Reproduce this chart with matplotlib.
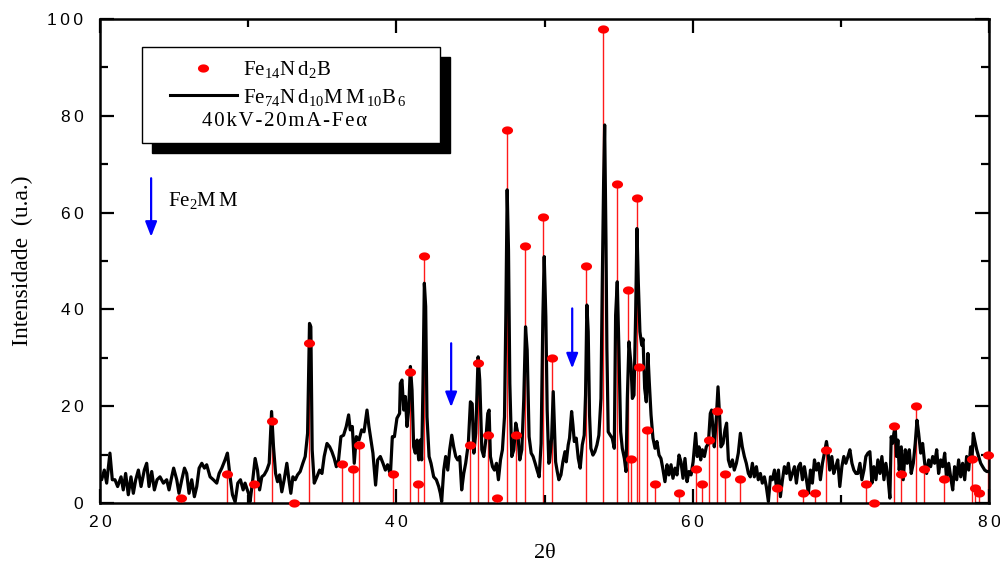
import matplotlib
matplotlib.use("Agg")
import matplotlib.pyplot as plt
import numpy as np
from matplotlib.path import Path
from matplotlib.patches import Rectangle
from matplotlib.ticker import MultipleLocator, FuncFormatter

# measured pattern Fe74Nd10MM10B6 (2theta, intensity)
two_theta = [
    20.0, 20.11, 20.29, 20.45, 20.67, 20.83, 21.01, 21.19, 21.42, 21.57, 21.73, 21.91, 22.09, 22.25,
    22.41, 22.59, 22.77, 22.99, 23.15, 23.31, 23.49, 23.67, 23.85, 24.05, 24.28, 24.5, 24.66, 24.84,
    24.97, 25.18, 25.33, 25.52, 25.7, 25.85, 26.01, 26.19, 26.37, 26.53, 26.69, 26.87, 27.05, 27.2,
    27.43, 27.65, 27.88, 28.04, 28.22, 28.44, 28.6, 28.78, 28.94, 29.12, 29.3, 29.48, 29.66, 29.79,
    30.02, 30.13,
    30.31, 30.47, 30.63, 30.77, 30.92, 31.08, 31.26, 31.42, 31.58, 31.71, 31.85, 31.98, 32.12, 32.27,
    32.43, 32.61, 32.75, 32.88, 33.02, 33.18, 33.33, 33.51, 33.69, 33.85, 34.01, 34.14, 34.23, 34.32,
    34.46, 34.64, 34.82, 34.98, 35.13, 35.32, 35.5, 35.65, 35.81, 35.95, 36.1, 36.26, 36.44, 36.62,
    36.78, 36.89, 37.03, 37.16, 37.3, 37.48, 37.66, 37.82, 38.02, 38.15, 38.29, 38.42, 38.6, 38.74,
    38.92, 39.1, 39.26, 39.41, 39.6, 39.73, 39.87, 40.04, 40.22,
    40.27, 40.38, 40.5, 40.61, 40.72, 40.83, 40.95, 41.06, 41.17, 41.28, 41.4, 41.51, 41.62, 41.71,
    41.8, 41.89, 41.98, 42.07, 42.21, 42.34, 42.52, 42.7, 42.86, 42.97, 43.06, 43.2, 43.33, 43.47,
    43.6, 43.74, 43.87, 44.01, 44.14, 44.28, 44.41, 44.55, 44.68, 44.86, 45.0, 45.12, 45.23, 45.36,
    45.52, 45.63, 45.77, 45.9, 46.04, 46.17, 46.26, 46.35, 46.49, 46.62, 46.76, 46.89, 47.03, 47.16,
    47.3, 47.39, 47.48, 47.57, 47.66, 47.79, 47.93, 48.06, 48.2, 48.33, 48.47, 48.6, 48.72, 48.83,
    48.96, 49.1, 49.23, 49.37, 49.5, 49.64, 49.77, 49.89, 49.98, 50.09, 50.18, 50.29,
    50.34, 50.48, 50.59, 50.68, 50.75, 50.86, 50.97, 51.11, 51.24, 51.38, 51.47, 51.6, 51.69, 51.83,
    51.92, 52.01, 52.14, 52.28, 52.41, 52.55, 52.68, 52.77, 52.86, 52.95, 53.04, 53.13, 53.27, 53.4,
    53.54, 53.67, 53.81, 53.9, 53.99, 54.06, 54.15, 54.21, 54.3, 54.44, 54.57, 54.71, 54.8, 54.91,
    55.02, 55.14, 55.25, 55.39, 55.5, 55.59, 55.7, 55.84, 55.93, 56.04, 56.15, 56.24, 56.33, 56.44,
    56.56, 56.65, 56.76, 56.87, 56.98, 57.07, 57.19, 57.32, 57.46, 57.59, 57.73, 57.86, 57.98, 58.13,
    58.27, 58.4, 58.54, 58.67, 58.81, 58.94, 59.08, 59.21, 59.35, 59.48, 59.62, 59.75, 59.89, 60.03,
    60.2, 60.31, 60.43, 60.54, 60.65, 60.79, 60.92, 61.06, 61.19, 61.28, 61.37, 61.46, 61.6, 61.71,
    61.82, 61.91, 62.05, 62.18, 62.29, 62.41, 62.54, 62.68, 62.81, 62.95, 63.08, 63.22, 63.35, 63.49,
    63.62, 63.76, 63.89, 64.03, 64.16, 64.3, 64.43, 64.57, 64.7, 64.84, 64.97, 65.11, 65.25, 65.38,
    65.52, 65.65, 65.79, 65.92, 66.06, 66.19, 66.33, 66.46, 66.6, 66.73, 66.87, 67.0, 67.14, 67.27,
    67.41, 67.54, 67.68, 67.81, 67.95, 68.08, 68.22, 68.35, 68.49, 68.62, 68.76, 68.89, 69.03, 69.14,
    69.25, 69.39, 69.52, 69.66, 69.79, 69.93, 70.07, 70.2,
    70.34, 70.48, 70.61, 70.75, 70.88, 71.02, 71.15, 71.29, 71.42, 71.56, 71.69, 71.83, 71.96, 72.1,
    72.23, 72.37, 72.5, 72.64, 72.77, 72.91, 73.04, 73.18, 73.31, 73.4, 73.49, 73.58, 73.67, 73.76,
    73.85, 73.94, 74.08, 74.21, 74.35, 74.48, 74.62, 74.75, 74.89, 75.02, 75.14, 75.25, 75.39, 75.52,
    75.66, 75.79, 75.93, 76.06, 76.2, 76.33, 76.47, 76.6, 76.74, 76.87, 77.01, 77.14, 77.28, 77.41,
    77.55, 77.68, 77.82, 77.95, 78.09, 78.22, 78.36, 78.49, 78.63, 78.76, 78.85, 78.94, 79.03, 79.17,
    79.3, 79.44, 79.57, 79.71, 79.85, 79.98,
]
intensity = [
    5.0, 4.8, 6.8, 4.1, 10.3, 4.8, 4.8, 3.4, 5.4, 2.7, 6.1, 1.7, 5.4, 2.0,
    4.8, 6.8, 3.4, 6.8, 8.2, 3.4, 6.5, 2.7, 4.8, 5.4, 4.1, 4.8, 2.7, 5.4,
    7.2, 4.8, 2.0, 4.8, 7.2, 6.1, 2.0, 4.8, 1.3, 3.4, 7.2, 8.2, 7.2, 7.9,
    5.4, 4.8, 4.1, 6.1, 7.2, 8.9, 10.3, 5.4, 1.7, 0.2, 4.1, 4.8, 2.7, 4.1,
    2.0, 0.3,
    4.8, 9.2, 6.8, 2.7, 5.4, 5.8, 6.8, 8.2, 18.9, 11.6, 6.1, 4.4, 5.8, 2.3,
    4.8, 8.2, 4.8, 2.0, 5.4, 4.8, 5.8, 6.5, 8.2, 9.6, 14.4, 37.1, 36.4, 11.0,
    4.1, 5.4, 6.8, 6.1, 9.6, 12.3, 11.6, 10.6, 9.2, 7.5, 8.9, 13.7, 14.0, 15.8,
    18.2, 15.1, 15.8, 8.2, 13.7, 13.0, 15.1, 14.7, 19.2, 15.8, 13.0, 10.3, 3.7, 8.9,
    9.6, 8.2, 6.8, 7.9, 5.8, 13.7, 13.7, 17.5, 18.5,
    24.7, 25.4, 19.2, 22.0, 15.8, 19.2, 28.2, 23.3, 11.6, 10.3, 13.0, 8.9, 13.0, 8.9,
    24.7, 45.4, 40.6, 17.8, 9.6, 8.2, 5.4, 4.8, 3.4, 2.0, 0.3, 6.8, 9.6, 6.8,
    11.0, 14.0, 11.6, 9.6, 8.9, 9.6, 2.7, 6.1, 8.2, 12.3, 20.9, 20.5, 10.3, 14.4,
    30.2, 25.4, 11.0, 9.6, 13.0, 18.5, 19.2, 9.6, 7.5, 6.8, 8.2, 4.8, 8.9, 11.0,
    17.8, 38.5, 64.7, 52.3, 24.7, 9.6, 11.0, 16.5, 14.4, 8.9, 11.0, 21.3, 36.4, 31.6,
    13.7, 10.3, 9.6, 8.2, 6.8, 5.4, 12.3, 38.5, 50.9, 38.5, 19.2, 8.2,
    8.5, 13.4, 23.0, 14.7, 8.5, 6.5, 4.8, 5.8, 8.5, 10.6, 8.5, 12.0, 13.4, 18.9,
    16.1, 12.7, 13.4, 9.2, 7.2, 12.0, 14.0, 22.3, 40.9, 35.4, 18.2, 11.3, 9.9, 10.6,
    12.0, 14.0, 21.6, 45.7, 66.4, 78.1, 54.0, 32.0, 14.7, 14.0, 13.4, 11.3, 38.8, 45.7,
    32.0, 14.7, 11.3, 9.2, 6.5, 21.6, 33.3, 28.5, 21.6, 22.3, 38.8, 56.7, 45.7, 35.4,
    32.6, 33.9, 23.7, 20.9, 30.9, 25.1, 18.2, 13.4, 11.3, 12.7, 9.9, 9.2, 7.2, 4.4,
    7.9, 5.8, 7.9, 5.1, 7.2, 5.8, 9.9, 8.5, 5.1, 9.2, 4.4, 6.5, 5.8, 8.5,
    14.4, 9.6, 11.6, 8.9, 11.0, 9.6, 11.6, 12.3, 18.5, 19.2, 15.1, 11.6, 17.8, 24.0,
    17.8, 11.6, 12.3, 15.1, 16.5, 8.9, 7.5, 8.9, 6.8, 8.2, 10.3, 14.4, 11.6, 9.6,
    8.2, 6.1, 5.4, 8.2, 5.4, 7.5, 4.8, 6.1, 4.1, 5.4, 3.4, 0.3, 5.4, 4.8,
    6.8, 3.4, 6.8, 1.3, 4.8, 7.5, 6.1, 8.2, 4.8, 6.1, 7.5, 4.1, 7.5, 8.2,
    4.8, 7.5, 4.8, 2.0, 6.8, 4.1, 8.9, 6.8, 8.2, 4.8, 8.2, 10.3, 12.7, 10.3,
    6.8, 9.6, 6.1, 7.5, 8.9, 3.4, 7.5, 9.6,
    8.2, 9.6, 11.0, 8.2, 6.8, 6.1, 6.1, 8.2, 4.8, 6.8, 9.6, 10.3, 10.6, 4.1,
    7.5, 4.8, 8.9, 6.1, 9.6, 4.8, 8.2, 5.4, 1.0, 13.7, 12.3, 14.4, 15.8, 9.6,
    13.0, 6.8, 11.6, 4.8, 11.0, 8.2, 11.0, 6.1, 8.2, 12.3, 17.1, 14.4, 10.3, 12.3,
    8.2, 6.1, 8.9, 7.5, 9.6, 8.2, 11.0, 6.1, 8.9, 7.5, 10.3, 4.8, 8.2, 5.4,
    2.7, 7.5, 4.8, 8.9, 5.4, 8.2, 4.8, 9.6, 6.8, 11.6, 8.9, 14.4, 13.0, 11.0,
    9.6, 8.2, 7.5, 6.8, 6.5, 6.5,
]

# Fe14Nd2B reference peaks
ref_2theta = [25.47, 28.55, 30.4, 31.59, 33.1, 34.12, 36.3, 37.05, 37.5, 39.75,
              40.92, 41.48, 41.86, 44.97, 45.5, 46.16, 46.77, 47.44, 48.05, 48.68,
              49.87, 50.5, 52.79, 53.96, 54.86, 55.65, 55.83, 56.21, 56.41, 56.91,
              57.45, 59.07, 60.2, 60.6, 61.09, 61.61, 62.17, 63.18, 65.66, 67.46,
              68.25, 68.99, 71.67, 72.25, 73.6, 74.09, 75.1, 75.62, 76.95, 78.86,
              79.04, 79.33, 79.9]
ref_int = [1, 6, 4, 17, 0, 33, 8, 7, 12, 6,
           27, 4, 51, 12, 29, 14, 1, 77, 14, 53,
           59, 30, 49, 98, 66, 44, 9, 63, 28, 15,
           4, 2, 7, 4, 13, 19, 6, 5, 3, 2,
           2, 11, 4, 0, 16, 6, 20, 7, 5, 9,
           3, 2, 10]

# Fe2MM positions (arrow start, arrow end)
arrow_x = [23.45, 43.7, 51.87]
arrow_top = [67.1, 33.0, 40.2]
arrow_bottom = [55.0, 19.8, 27.8]

SERIF = ['Liberation Serif', 'DejaVu Serif']
SANS = ['Liberation Sans', 'DejaVu Sans']

# ellipse marker (wider than tall)
t = np.linspace(0, 2 * np.pi, 40)
ellipse = Path(np.column_stack([np.cos(t) * 1.35, np.sin(t)]))

fig = plt.figure(figsize=(10, 5.64), dpi=100)
ax = fig.add_axes([0.1, 0.1082, 0.889, 0.8581])

ax.vlines(ref_2theta, 0, ref_int, color='#ff1a1a', lw=1.0, zorder=1)
ax.plot(two_theta, intensity, color='black', lw=2.3, zorder=2)
ax.plot(ref_2theta, ref_int, linestyle='none', marker=ellipse, markersize=8,
        color='#ff0000', markeredgewidth=0, zorder=3, clip_on=False)

for x, y0, y1 in zip(arrow_x, arrow_top, arrow_bottom):
    ax.annotate('', xy=(x, y1), xytext=(x, y0),
                arrowprops=dict(arrowstyle='-|>,head_length=0.9,head_width=0.35',
                                color='#0000ff', lw=1.6, shrinkA=0, shrinkB=0))
ax.text(24.6, 62.4, r'$\mathregular{Fe_{2}M\,M}$', fontsize=15, family=SERIF,
        va='center', ha='left')

ax.set_xlim(20, 80)
ax.set_ylim(0, 100)
ax.xaxis.set_major_locator(MultipleLocator(20))
ax.xaxis.set_minor_locator(MultipleLocator(10))
ax.yaxis.set_major_locator(MultipleLocator(20))
ax.yaxis.set_minor_locator(MultipleLocator(10))
spaced = FuncFormatter(lambda v, p: '\u2009'.join(str(int(round(v)))))
ax.xaxis.set_major_formatter(spaced)
ax.yaxis.set_major_formatter(spaced)
ax.tick_params(which='both', direction='in', top=True, right=True, width=1.6)
ax.tick_params(which='major', length=10)
ax.tick_params(which='minor', length=6)
ax.tick_params(axis='y', pad=12)
ax.tick_params(axis='x', pad=9)
for lab in ax.get_xticklabels() + ax.get_yticklabels():
    lab.set_family(SANS)
    lab.set_fontsize(12.5)
for sp in ax.spines.values():
    sp.set_linewidth(1.8)

ax.set_xlabel('2θ', fontsize=16, family=SERIF, labelpad=10)
ax.set_ylabel('Intensidade  (u.a.)', fontsize=17, family=SERIF, labelpad=10)

# legend box with drop shadow
tr = ax.transAxes
ax.add_patch(Rectangle((0.0585, 0.723), 0.3353, 0.198, transform=tr,
                       facecolor='black', edgecolor='black', zorder=5))
ax.add_patch(Rectangle((0.0472, 0.744), 0.3353, 0.198, transform=tr,
                       facecolor='white', edgecolor='black', lw=1.0, zorder=6))
ax.plot([0.1154], [0.8988], transform=tr, marker=ellipse, markersize=8,
        color='#ff0000', markeredgewidth=0, linestyle='none', zorder=7)
ax.plot([0.0787, 0.1544], [0.844, 0.844], transform=tr, color='black', lw=2.2, zorder=7)
ax.text(0.1604, 0.895, r'$\mathregular{Fe_{14}N\,d_{2}B}$', transform=tr, fontsize=15,
        family=SERIF, va='center', ha='left', zorder=8)
ax.text(0.1604, 0.838, r'$\mathregular{Fe_{74}N\,d_{10}M\,M_{\,10}B_{\,6}}$', transform=tr,
        fontsize=15, family=SERIF, va='center', ha='left', zorder=8)
ax.text(0.1147, 0.789, '\u200a'.join('40kV-20mA-Feα'), transform=tr, fontsize=15,
        family=SERIF, va='center', ha='left', zorder=8)

fig.savefig('out.png', dpi=100)
